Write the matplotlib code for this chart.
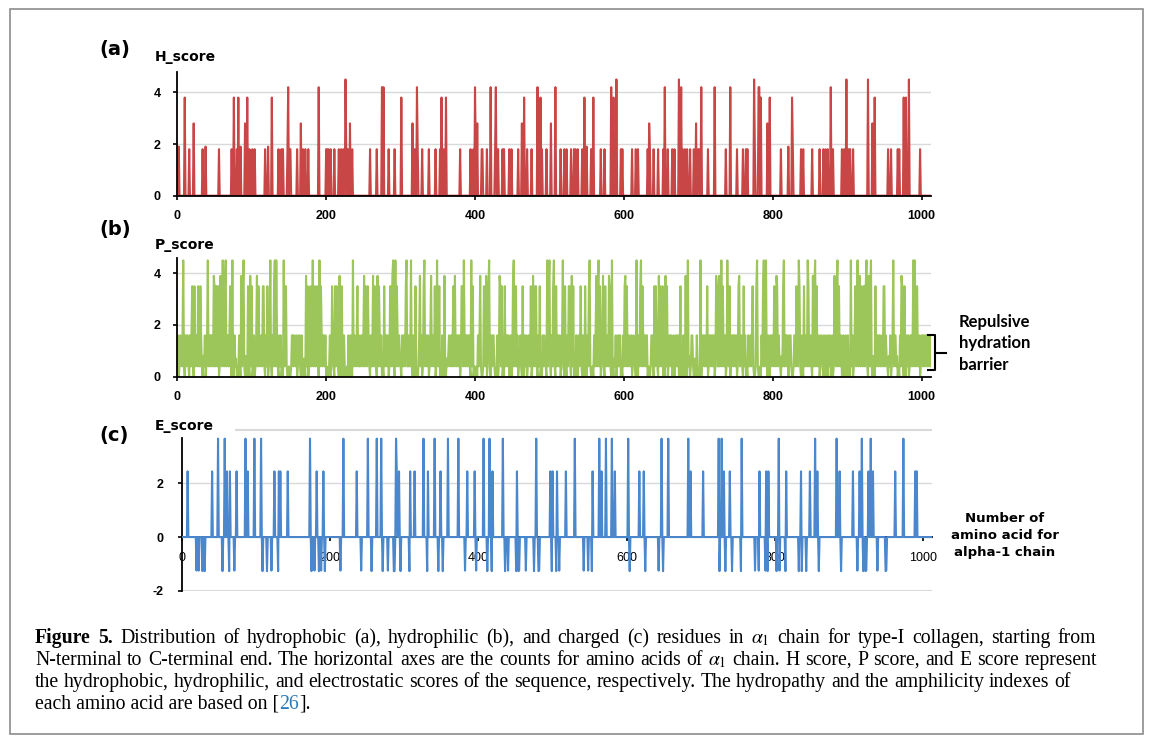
import numpy as np
import matplotlib
matplotlib.use('Agg')
import matplotlib.pyplot as plt
from matplotlib.lines import Line2D
from matplotlib.patches import Rectangle

# alpha-1 chain (triple helix), checked against the spikes of panels (a)-(c)
alpha1_seq = ''.join([
    'GPMGPSGPRG', 'LPGPPGAPGP', 'QGFQGPPGEP', 'GEPGASGPMG', 'PRGPPGPPGK',
    'NGDDGEAGKP', 'GRPGERGPPG', 'PQGARGLPGT', 'AGLPGMKGHR', 'GFSGLDGAKG',
    'DAGPAGPKGE', 'PGSPGENGAP', 'GQMGPRGLPG', 'ERGRPGAPGP', 'AGARGNDGAV',
    'GAAGPPGPTG', 'PAGPPGFPGA', 'TGAKGEAGPQ', 'GPRGSEGPQG', 'VRGEPGPPGP',
    'AGAAGPAGNP', 'GADGQPGAKG', 'ANGAPGIAGA', 'PGFPGARGPS', 'GPQGPGGPPG',
    'PKGNSGEPGA', 'PGSKGDTGAK', 'GEPGPVGVQG', 'PPGPAGEEGK', 'RGARGEPGPT',
    'GLPGPPGERG', 'GPGSRGFPGA', 'DGVAGPKGPA', 'GERGSPGPAG', 'PKGSPGEAGR',
    'PGEAGLPGAK', 'GLTGSPGSPG', 'PDGKTGPPGP', 'AGQDGRPGPP', 'GPPGARGQAG',
    'VMGFPGPKGA', 'AGEPGKAGER', 'GVPGPPGAVG', 'PAGKDGEAGA', 'QGPPGPAGPA',
    'GERGEQGPAG', 'SPGFQGLPGP', 'AGPPGEAGKP', 'GEQGVPGDLG', 'APGPSGARGE',
    'RGFPGERGVQ', 'GPPGPAGPRG', 'ANGAPGNDGA', 'KGDAGAPGAP', 'GSQGAPGLQG',
    'MPGERGAAGL', 'PGPKGDRGDA', 'GPKGADGSPG', 'KDGVRGLTGP', 'IGPPGPAGAP',
    'GDKGESGPSG', 'PAGPTGARGA', 'PGDRGEPGPP', 'GPAGFAGPPG', 'ADGQPGAKGE',
    'PGDAGVKGDA', 'GPPGPAGPAG', 'PPGPIGNVGA', 'PGAKGARGSA', 'GPPGATGFPG',
    'AAGRVGPPGP', 'SGNAGPPGPP', 'GPVGKEGGKG', 'PRGETGPAGR', 'PGEVGPPGPP',
    'GPAGEKGSPG', 'ADGPAGAPGT', 'PGPQGIAGQR', 'GVVGLPGQRG', 'ERGFPGLPGP',
    'SGEPGKQGPS', 'GASGERGPPG', 'PMGPPGLAGP', 'PGESGREGAP', 'GAEGSPGRDG',
    'SPGAKGDRGE', 'TGPAGPPGAP', 'GAPGAPGPVG', 'PAGKSGDRGE', 'TGPAGPAGPI',
    'GPAGARGPAG', 'PQGPRGDKGE', 'TGEQGDRGIK', 'GHRGFSGLQG', 'PPGPPGSPGE',
    'QGPSGASGPA', 'GPRGPPGSAG', 'APGKDGLNGL', 'PGPIGPPGPR', 'GRTGDSGPAG',
    'PPGPPGPPGP', 'PGPP',
])
assert len(alpha1_seq) == 1014

# hydropathy (positive part) -> H_score
h_scale = {'I': 4.5, 'V': 4.2, 'L': 3.8, 'F': 2.8, 'C': 2.5, 'M': 1.9, 'A': 1.8}
# hydropathy (negative part, sign flipped) -> P_score
p_scale = {'R': 4.5, 'K': 3.9, 'N': 3.5, 'D': 3.5, 'Q': 3.5, 'E': 3.5, 'H': 3.2,
           'P': 1.6, 'Y': 1.3, 'W': 0.9, 'S': 0.8, 'T': 0.7, 'G': 0.4}
# amphiphilicity with charge sign -> E_score
e_scale = {'K': 3.67, 'R': 2.45, 'E': -1.27, 'Q': -1.25}

x_ticks = [0, 200, 400, 600, 800, 1000]
ab_yticks = [0, 2, 4]
c_yticks = [-2, 0, 2]

h_score = np.array([h_scale.get(a, 0.0) for a in alpha1_seq])
p_score = np.array([p_scale.get(a, 0.0) for a in alpha1_seq])
e_score = np.array([e_scale.get(a, 0.0) for a in alpha1_seq])
x = np.arange(len(alpha1_seq))

RED, GREEN, BLUE = '#C94647', '#9CC55A', '#4A87CC'
GRID = '#d9d9d9'

plt.rcParams['font.family'] = ['Liberation Sans', 'DejaVu Sans']
plt.rcParams['mathtext.fontset'] = 'stix'
plt.rcParams['axes.unicode_minus'] = False

W, H = 1153, 736
fig = plt.figure(figsize=(W / 100, H / 100), dpi=100)


def px_axes(left, top, right, bottom):
    return fig.add_axes([left / W, 1 - bottom / H, (right - left) / W, (bottom - top) / H])


def ftext(xp, yp, s, **kw):
    return fig.text(xp / W, 1 - yp / H, s, **kw)


def style(ax, yticks, ypad):
    for s in ['top', 'right']:
        ax.spines[s].set_visible(False)
    for s in ['left', 'bottom']:
        ax.spines[s].set_linewidth(1.3)
    ax.set_xticks(x_ticks)
    ax.set_yticks(yticks)
    ax.tick_params(axis='x', direction='out', length=3, width=1.2, pad=7.5, labelsize=9)
    ax.tick_params(axis='y', direction='out', length=3, width=1.2, pad=ypad, labelsize=9)
    for lbl in ax.get_xticklabels() + ax.get_yticklabels():
        lbl.set_fontweight('bold')
    ax.set_xlim(0, 1012)


# (a) hydrophobic
ax_a = px_axes(177.3, 71.7, 930.5, 195.7)
ax_a.plot(x, h_score, color=RED, lw=1.5)
ax_a.set_ylim(0, 4.8)
for g in [2, 4]:
    ax_a.axhline(g, color=GRID, lw=1, zorder=0)
style(ax_a, ab_yticks, 9)

# (b) hydrophilic
ax_b = px_axes(177.3, 258.3, 930.5, 376.7)
ax_b.plot(x, p_score, color=GREEN, lw=1.5)
ax_b.set_ylim(0, 4.58)
for g in [2, 4]:
    ax_b.axhline(g, color=GRID, lw=1, zorder=0)
style(ax_b, ab_yticks, 9)

# (c) electrostatic
ax_c = px_axes(181.7, 429.8, 932.3, 590.7)
ax_c.plot(x, e_score, color=BLUE, lw=1.5, zorder=3)
ax_c.set_ylim(-2, 4.0)
ax_c.axhline(2, color=GRID, lw=1, zorder=0)
ax_c.axhline(-2, color=GRID, lw=1.5, zorder=0)
ax_c.hlines(4, 72, 1012, color=GRID, lw=1.5, zorder=0, clip_on=False)
style(ax_c, c_yticks, 10)
ax_c.spines['bottom'].set_position(('data', 0))
ax_c.spines['left'].set_bounds(-2, 3.7)

# panel letters and score names
for letter, name, ly, ny in [('(a)', 'H_score', 50, 57),
                             ('(b)', 'P_score', 230, 245),
                             ('(c)', 'E_score', 435, 426)]:
    ftext(99, ly, letter, fontsize=14, family='DejaVu Sans', weight='bold', va='center')
    ftext(155, ny, name, fontsize=10, family='DejaVu Sans', weight='bold', va='center')

# hydration barrier bracket and note
bracket = [([928, 935, 935, 928], [335, 335, 370, 370]), ([935, 946], [352.5, 352.5])]
for bx, by in bracket:
    fig.add_artist(Line2D([v / W for v in bx], [1 - v / H for v in by],
                          color='black', lw=1.5, transform=fig.transFigure))
for s, yy in [('Repulsive', 321.7), ('hydration', 343.3), ('barrier', 365)]:
    ftext(959, yy, s, fontsize=12, family='Lato', weight='bold', va='center')

for s, yy in [('Number of', 519), ('amino acid for', 535.7), ('alpha-1 chain', 552.3)]:
    ftext(1005, yy, s, fontsize=9.5, family='DejaVu Sans', weight='bold',
          ha='center', va='center')

# frame
fig.add_artist(Rectangle((10 / W, 1 - 734 / H), 1133 / W, 725 / H, fill=False,
                         edgecolor='#8c8c8c', lw=1.2, transform=fig.transFigure))

# caption
renderer = fig.canvas.get_renderer()
cap_kw = dict(fontsize=14.2, family='Liberation Serif', va='baseline')
CAP_LEFT = 35


def caption_justified(yp, pieces, right):
    # words spread so the line runs from CAP_LEFT to right
    words = []
    for s, w in pieces:
        words += [(wd, w) for wd in s.split(' ') if wd]
    arts = [ftext(CAP_LEFT, yp, wd, weight=w, **cap_kw) for wd, w in words]
    widths = [a.get_window_extent(renderer).width for a in arts]
    gap = (right - CAP_LEFT - sum(widths)) / (len(arts) - 1)
    xp = CAP_LEFT
    for a, wd in zip(arts, widths):
        a.set_x(xp / W)
        xp += wd + gap


def caption_plain(yp, pieces):
    xp = CAP_LEFT
    for s, c in pieces:
        t = ftext(xp, yp, s, color=c, **cap_kw)
        xp += t.get_window_extent(renderer).width


caption_justified(643, [('Figure 5.', 'bold'),
                        ('Distribution of hydrophobic (a), hydrophilic (b), and charged (c) residues in '
                         r'$\alpha_1$ chain for type-I collagen, starting from', 'normal')], 1096)
caption_justified(665, [('N-terminal to C-terminal end. The horizontal axes are the counts for amino acids of '
                         r'$\alpha_1$ chain. H score, P score, and E score represent', 'normal')], 1097)
caption_justified(687, [('the hydrophobic, hydrophilic, and electrostatic scores of the sequence, respectively. '
                         'The hydropathy and the amphilicity indexes of', 'normal')], 1071)
caption_plain(709, [('each amino acid are based on [', 'black'),
                    ('26', '#2a7ab8'),
                    ('].', 'black')])

fig.savefig('out.png', dpi=100)
